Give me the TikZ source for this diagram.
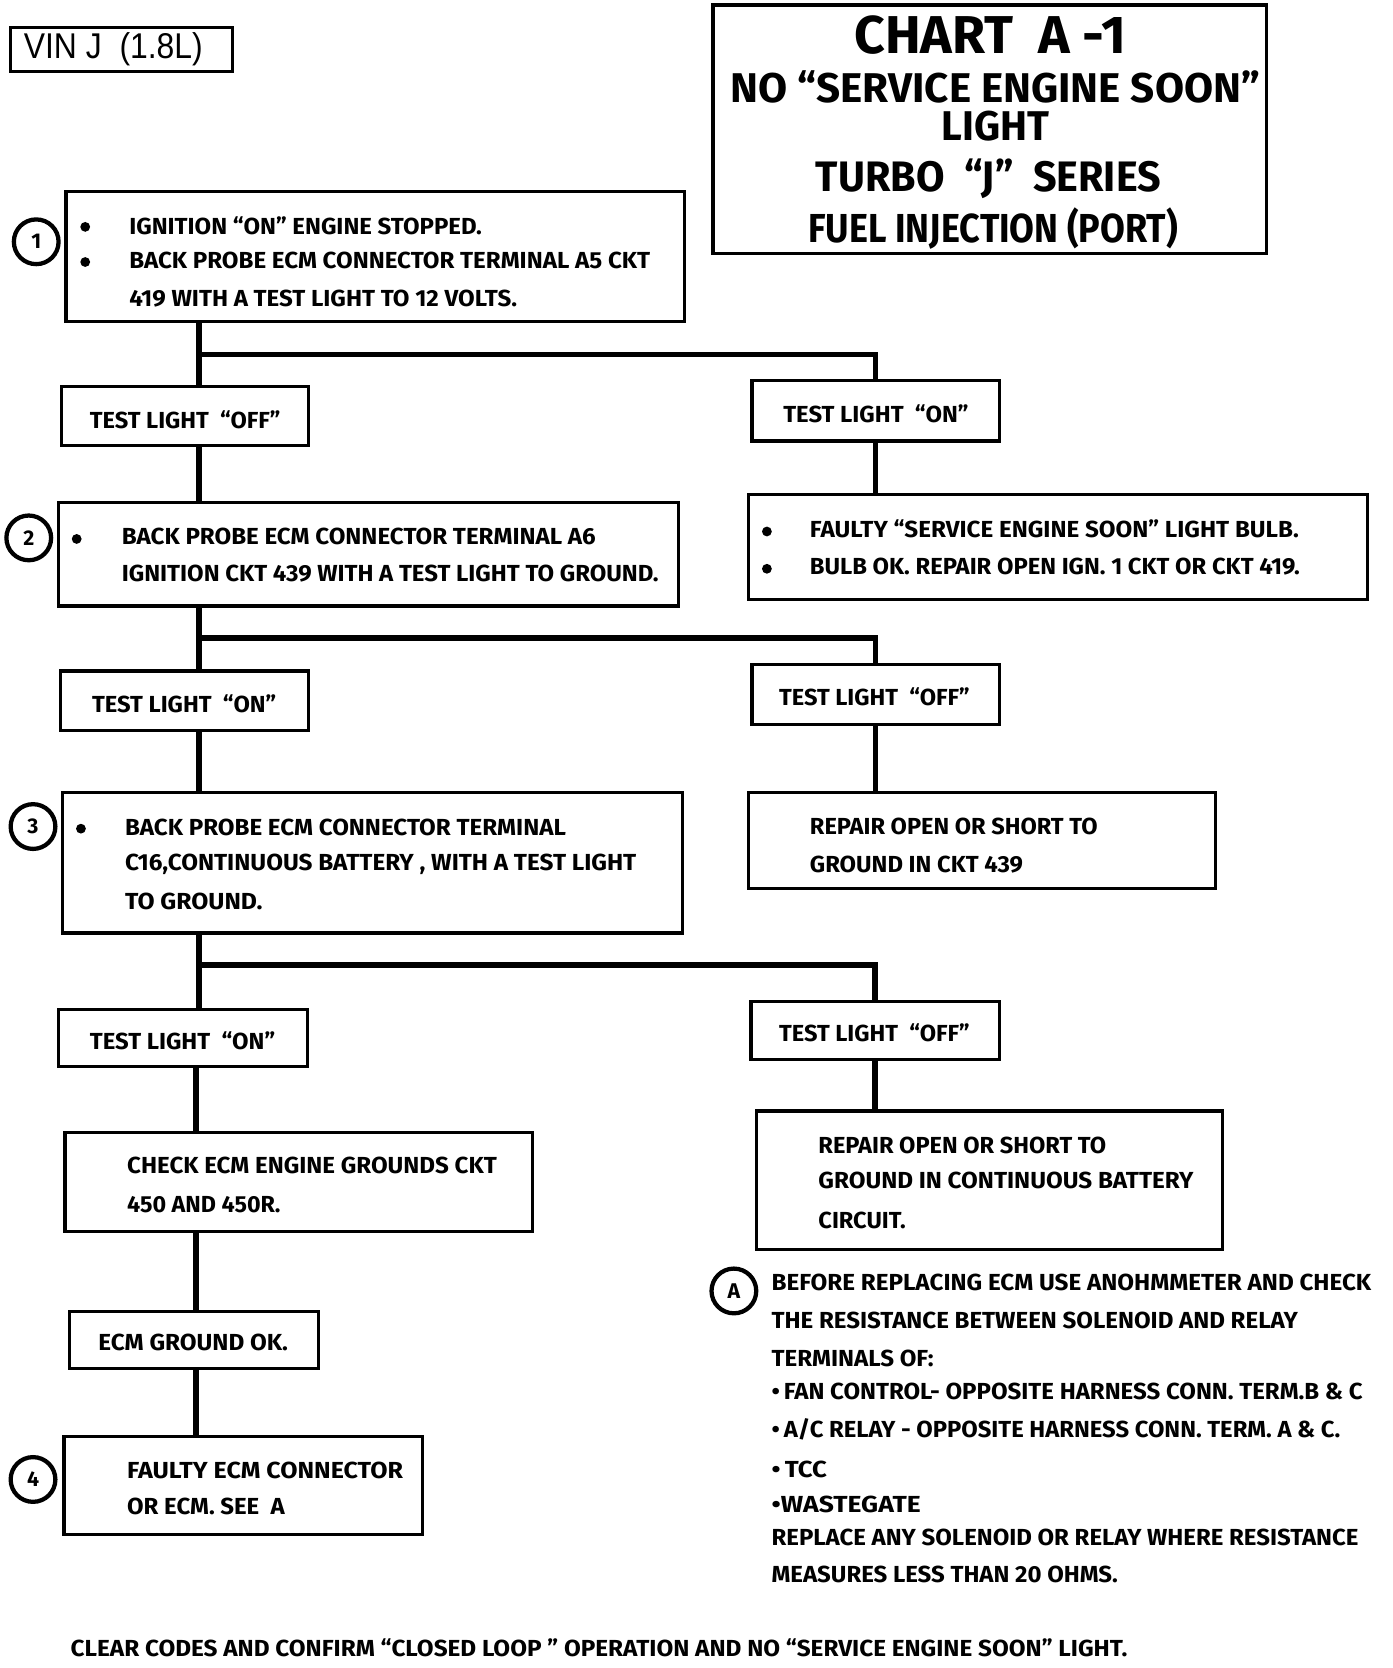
\documentclass[tikz,border=0pt]{standalone}
\usepackage{graphicx}
\usepackage{fontspec}
\usetikzlibrary{fit}
\newfontfamily\bodyf{Fira Sans}
\newfontfamily\vinf{Liberation Sans}
\newdimen\pxu \pxu=0.5pt
\newcommand\fw[2]{\resizebox{#1\pxu}{\height}{#2}}
\tikzset{
 box/.style={draw, line width=1.5pt, inner sep=0pt},
 trunk/.style={line width=2.6pt},
 txt/.style={anchor=base west, inner sep=0pt, font={\bodyf\bfseries\fontsize{10.9}{13}\selectfont}},
 ttl/.style={anchor=base, inner sep=0pt},
 num/.style={circle, draw, line width=2pt, minimum size=21pt, inner sep=0pt, font={\bodyf\bfseries\fontsize{10}{12}\selectfont}},
 bul/.style={circle, fill, inner sep=0pt, minimum size=4.6pt},
}
\begin{document}
\begin{tikzpicture}[x=0.5pt,y=-0.5pt]
\fill[white] (0,0) rectangle (1307,1566);
\useasboundingbox (0,0) rectangle (1307,1566);

% VIN
\node[box, fit={(10,26)(218,67)}] (vin) {};
\node[anchor=base west, inner sep=0pt, font={\vinf\fontsize{16.8}{20}\selectfont}] (vint) at (22,55) {\fw{168}{VIN J\ \ (1.8L)}};

% Title
\node[box, line width=1.8pt, fit={(669,5)(1189,238)}] (title) {};
\node[ttl, font={\bodyf\bfseries\fontsize{25}{30}\selectfont}] (t1) at (929.5,50) {\fw{255}{CHART\ \ A -1}};
\node[ttl, font={\bodyf\bfseries\fontsize{19.5}{24}\selectfont}] (t2) at (934.5,96) {\fw{497}{NO “SERVICE ENGINE SOON”}};
\node[ttl, font={\bodyf\bfseries\fontsize{19.5}{24}\selectfont}] (t3) at (934.5,132) {\fw{101}{LIGHT}};
\node[ttl, font={\bodyf\bfseries\fontsize{20}{24}\selectfont}] (t4) at (928,180) {\fw{324}{TURBO\ \ “J”\ \ SERIES}};
\node[ttl, font={\bodyf\bfseries\fontsize{19}{24}\selectfont}] (t5) at (932.5,228) {\fw{347}{FUEL INJECTION\ (PORT)}};

\coordinate (tA) at (187,0);
\coordinate (tB) at (184,0);

% Step 1
\node[num] (c1) at (34,227) {1};
\node[box, fit={(62,180)(643,302)}] (b1) {};
\node[bul] (b1u1) at (80,213) {};
\node[bul] (b1u2) at (80,246) {};
\node[txt] (b1t1) at (121,220) {\fw{331}{IGNITION “ON” ENGINE STOPPED.}};
\node[txt] (b1t2) at (121,252) {\fw{489}{BACK PROBE ECM CONNECTOR TERMINAL A5 CKT}};
\node[txt] (b1t3) at (121,288) {\fw{364}{419 WITH A TEST LIGHT TO 12 VOLTS.}};

\node[box, fit={(58,363)(290,418)}] (tl1) {};
\node[txt] (tl1t) at (84,402) {\fw{179}{TEST LIGHT\ \ “OFF”}};
\node[box, fit={(706,357)(938,414)}] (tr1) {};
\node[txt] (tr1t) at (735,397) {\fw{174}{TEST LIGHT\ \ “ON”}};
\coordinate (j1) at (187,333);
\draw[trunk] (b1.south -| tA) -- (tl1.north -| tA);
\draw[trunk] (j1) -| (tr1.north);

\node[box, fit={(703,464)(1284,563)}] (f1) {};
\node[bul] (f1u1) at (720,499) {};
\node[bul] (f1u2) at (720,534) {};
\node[txt] (f1t1) at (760,505) {\fw{459}{FAULTY “SERVICE ENGINE SOON” LIGHT BULB.}};
\node[txt] (f1t2) at (760,539) {\fw{460}{BULB OK. REPAIR OPEN IGN. 1 CKT OR CKT 419.}};
\draw[trunk] (tr1.south) -- (tr1.south |- f1.north);

% Step 2
\node[num] (c2) at (27,505) {2};
\node[box, fit={(55,472)(637,569)}] (b2) {};
\node[bul] (b2u1) at (72,506) {};
\node[txt] (b2t1) at (114,511) {\fw{445}{BACK PROBE ECM CONNECTOR TERMINAL A6}};
\node[txt] (b2t2) at (114,546) {\fw{504}{IGNITION CKT 439 WITH A TEST LIGHT TO GROUND.}};
\draw[trunk] (tl1.south -| tA) -- (b2.north -| tA);

\node[box, fit={(57,630)(290,686)}] (tl2) {};
\node[txt] (tl2t) at (86,669) {\fw{173}{TEST LIGHT\ \ “ON”}};
\node[box, fit={(706,624)(938,680)}] (tr2) {};
\node[txt] (tr2t) at (731,662) {\fw{179}{TEST LIGHT\ \ “OFF”}};
\coordinate (j2) at (187,599);
\draw[trunk] (b2.south -| tA) -- (tl2.north -| tA);
\draw[trunk] (j2) -| (tr2.north);

\node[box, fit={(703,744)(1141,834)}] (r2) {};
\node[txt] (r2t1) at (760,783) {\fw{270}{REPAIR OPEN OR SHORT TO}};
\node[txt] (r2t2) at (760,819) {\fw{200}{GROUND IN CKT 439}};
\draw[trunk] (tr2.south) -- (tr2.south |- r2.north);

% Step 3
\node[num] (c3) at (31,776) {3};
\node[box, fit={(59,744)(641,876)}] (b3) {};
\node[bul] (b3u1) at (76,778) {};
\node[txt] (b3t1) at (117,784) {\fw{414}{BACK PROBE ECM CONNECTOR TERMINAL}};
\node[txt] (b3t2) at (117,817) {\fw{480}{C16,CONTINUOUS BATTERY , WITH A TEST LIGHT}};
\node[txt] (b3t3) at (117,854) {\fw{129}{TO GROUND.}};
\draw[trunk] (tl2.south -| tA) -- (b3.north -| tA);

\node[box, fit={(55,948)(289,1001)}] (tl3) {};
\node[txt] (tl3t) at (84,985) {\fw{174}{TEST LIGHT\ \ “ON”}};
\node[box, fit={(705,940)(938,995)}] (tr3) {};
\node[txt] (tr3t) at (731,978) {\fw{179}{TEST LIGHT\ \ “OFF”}};
\coordinate (j3) at (187,906);
\draw[trunk] (b3.south -| tA) -- (tl3.north -| tA);
\draw[trunk] (j3) -| (tr3.north);

\node[box, fit={(710,1043)(1148,1173)}] (r3) {};
\node[txt] (r3t1) at (768,1083) {\fw{270}{REPAIR OPEN OR SHORT TO}};
\node[txt] (r3t2) at (768,1116) {\fw{352}{GROUND IN CONTINUOUS BATTERY}};
\node[txt] (r3t3) at (768,1153) {\fw{82}{CIRCUIT.}};
\draw[trunk] (tr3.south) -- (tr3.south |- r3.north);

% Lower left chain
\node[box, fit={(61,1063)(500,1156)}] (ck) {};
\node[txt] (ckt1) at (119,1102) {\fw{347}{CHECK ECM ENGINE GROUNDS CKT}};
\node[txt] (ckt2) at (119,1138) {\fw{144}{450 AND 450R.}};
\draw[trunk] (tl3.south -| tB) -- (ck.north -| tB);

\node[box, fit={(65,1231)(299,1285)}] (ok) {};
\node[txt] (okt) at (92,1268) {\fw{178}{ECM GROUND OK.}};
\draw[trunk] (ck.south -| tB) -- (ok.north -| tB);

\node[num] (c4) at (31,1389) {4};
\node[box, fit={(60,1349)(397,1441)}] (b4) {};
\node[txt] (b4t1) at (119,1388) {\fw{259}{FAULTY ECM CONNECTOR}};
\node[txt] (b4t2) at (119,1422) {\fw{148}{OR ECM. SEE\ \ A}};
\draw[trunk] (ok.south -| tB) -- (b4.north -| tB);

% Note A
\node[num] (cA) at (689,1212) {A};
\node[txt] (n1) at (724,1212) {\fw{563}{BEFORE REPLACING ECM USE ANOHMMETER AND CHECK}};
\node[txt] (n2) at (724,1247) {\fw{494}{THE RESISTANCE BETWEEN SOLENOID AND RELAY}};
\node[txt] (n3) at (724,1283) {\fw{152}{TERMINALS OF:}};
\node[txt] (n4) at (724,1314) {\fw{555}{•\,FAN CONTROL- OPPOSITE HARNESS CONN. TERM.B \& C}};
\node[txt] (n5) at (724,1350) {\fw{534}{•\,A/C RELAY - OPPOSITE HARNESS CONN. TERM. A \& C.}};
\node[txt] (n6) at (724,1387) {\fw{52}{•\,TCC}};
\node[txt] (n7) at (724,1420) {\fw{140}{•WASTEGATE}};
\node[txt] (n8) at (724,1451) {\fw{551}{REPLACE ANY SOLENOID OR RELAY WHERE RESISTANCE}};
\node[txt] (n9) at (724,1486) {\fw{325}{MEASURES LESS THAN 20 OHMS.}};

% Bottom
\node[txt] (bot) at (66,1555) {\fw{992}{CLEAR CODES AND CONFIRM “CLOSED LOOP ” OPERATION AND NO “SERVICE ENGINE SOON” LIGHT.}};
\end{tikzpicture}
\end{document}
